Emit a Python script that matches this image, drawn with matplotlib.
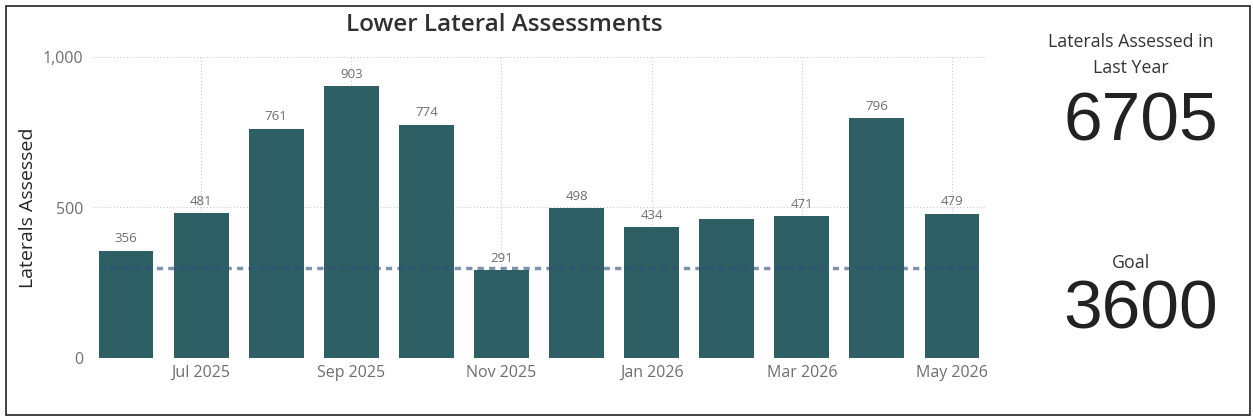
import numpy as np
import matplotlib
matplotlib.use('Agg')
import matplotlib.pyplot as plt
from matplotlib.patches import Rectangle
from matplotlib.ticker import FuncFormatter

plt.rcParams['font.family'] = ['Open Sans', 'DejaVu Sans']

# monthly lateral assessments, Jun 2025 - May 2026
months = ['Jun 2025', 'Jul 2025', 'Aug 2025', 'Sep 2025', 'Oct 2025', 'Nov 2025',
          'Dec 2025', 'Jan 2026', 'Feb 2026', 'Mar 2026', 'Apr 2026', 'May 2026']
assessed = [356, 481, 761, 903, 774, 291, 498, 434, 461, 471, 796, 479]
show_label = [True, True, True, True, True, True, True, True, False, True, True, True]
monthly_goal = 300
total_year = 6705
year_goal = 3600

bar_color = '#2e5f65'
grey_txt = '#6e6e6e'

fig = plt.figure(figsize=(12.53, 4.19), dpi=100)
ax = fig.add_axes([93 / 1253, 1 - 358 / 419, (985 - 93) / 1253, (358 - 57) / 419])

x = np.arange(len(months))
bar_w = 0.73
ax.bar(x, assessed, width=bar_w, color=bar_color, zorder=2)

# monthly goal line across the bars (semi-transparent so it shows on both)
ax.plot([x[0] - bar_w / 2, x[-1] + bar_w / 2], [monthly_goal, monthly_goal],
        color='#30507a', alpha=0.62, linewidth=2.5, dashes=(1.8, 1.5), zorder=3)

for xi, v, s in zip(x, assessed, show_label):
    if s:
        ax.annotate(f'{v}', (xi, v), xytext=(0, 4), textcoords='offset points',
                    ha='center', va='bottom', fontsize=9.5, color=grey_txt)

ax.set_xlim(-0.44, len(months) - 1 + 0.44)
ax.set_ylim(0, 1000)
ax.set_yticks([0, 500, 1000])
ax.yaxis.set_major_formatter(FuncFormatter(lambda v, p: f'{int(v):,}'))
ax.set_xticks(x[1::2])
ax.set_xticklabels(months[1::2])
ax.tick_params(axis='both', length=0, labelsize=11.5, labelcolor=grey_txt)
ax.tick_params(axis='x', pad=5)
ax.tick_params(axis='y', pad=7)

ax.grid(True, color='#c8c8c8', linestyle=(0, (1, 2)), linewidth=0.8, zorder=0)
for sp in ax.spines.values():
    sp.set_visible(False)

ax.set_ylabel('Laterals Assessed', fontsize=14, color='#252525', labelpad=4)
fig.text(504 / 1253, 1 - 25 / 419, 'Lower Lateral Assessments', ha='center', va='center',
         fontsize=17.5, fontweight='semibold', color='#303030')

# KPI cards on the right
kx = 1131 / 1253
fig.text(kx, 1 - 42 / 419, 'Laterals Assessed in', ha='center', va='center',
         fontsize=12.8, color='#333333')
fig.text(kx, 1 - 68 / 419, 'Last Year', ha='center', va='center',
         fontsize=12.8, color='#333333')
fig.text(kx + 10 / 1253, 1 - 122 / 419, f'{total_year}', ha='center', va='center',
         fontsize=50, color='#222222', family='Liberation Sans')
fig.text(kx, 1 - 263 / 419, 'Goal', ha='center', va='center',
         fontsize=12.8, color='#333333')
fig.text(kx + 10 / 1253, 1 - 310 / 419, f'{year_goal}', ha='center', va='center',
         fontsize=50, color='#222222', family='Liberation Sans')

# outer frame
fig.patches.append(Rectangle((6 / 1253, 4 / 419), (1250 - 6) / 1253, (413 - 4) / 419,
                             transform=fig.transFigure, fill=False,
                             edgecolor='#222222', linewidth=1.2))

fig.savefig('out.png', dpi=100)
